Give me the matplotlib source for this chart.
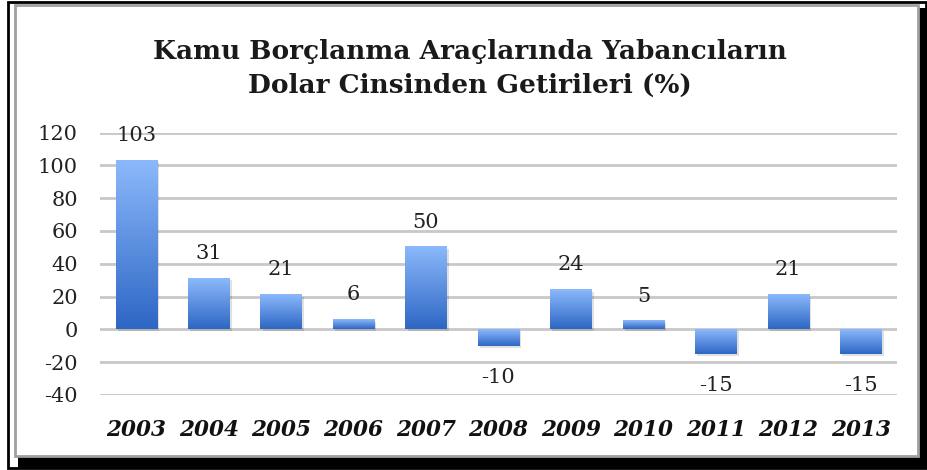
import numpy as np
import matplotlib
matplotlib.use("Agg")
import matplotlib.pyplot as plt
from matplotlib.patches import Rectangle
from matplotlib.colors import LinearSegmentedColormap

years = ["2003", "2004", "2005", "2006", "2007", "2008",
         "2009", "2010", "2011", "2012", "2013"]
returns = [103, 31, 21, 6, 50, -10, 24, 5, -15, 21, -15]
yticks = [-40, -20, 0, 20, 40, 60, 80, 100, 120]
title = "Kamu Borçlanma Araçlarında Yabancıların\nDolar Cinsinden Getirileri (%)"

W, H = 928, 470
plt.rcParams['font.family'] = ['DejaVu Serif', 'Liberation Serif']

fig = plt.figure(figsize=(W / 100, H / 100), dpi=100)


def box(x0, y0, x1, y1, **kw):
    # pixel coords (top-left origin) -> figure fraction
    r = Rectangle((x0 / W, 1 - y1 / H), (x1 - x0) / W, (y1 - y0) / H,
                  transform=fig.transFigure, **kw)
    fig.add_artist(r)


# frame with drop shadow
box(8, 2, 926, 468, facecolor="white", edgecolor="black", lw=2, zorder=0)
box(18, 456, 926, 468, facecolor="black", edgecolor="none", zorder=0)
box(918, 8, 926, 468, facecolor="black", edgecolor="none", zorder=0)
box(15, 5, 918, 456, facecolor="white", edgecolor="#a0a0a0", lw=2, zorder=0)

ax = fig.add_axes([100 / W, 1 - 395 / H, 797 / W, (395 - 132.5) / H])
ax.set_facecolor("none")

x = np.arange(len(years))
width = 0.57
bars = ax.bar(x, returns, width=width, color="none", zorder=3)

cmap = LinearSegmentedColormap.from_list("bar", ["#2d66c4", "#8cb9fb"])
grad = np.linspace(0, 1, 256).reshape(-1, 1)
for b, v in zip(bars, returns):
    x0 = b.get_x()
    x1 = x0 + b.get_width()
    lo, hi = min(0, v), max(0, v)
    # soft shadow
    ax.add_patch(Rectangle((x0 + 0.03, lo - 1.2), x1 - x0, hi - lo,
                           facecolor="#000000", alpha=0.12, lw=0, zorder=2))
    ax.imshow(grad, extent=[x0, x1, lo, hi], origin="lower",
              aspect="auto", cmap=cmap, zorder=3)
    if v >= 0:
        ax.annotate(str(v), (b.get_x() + width / 2, v), xytext=(0, 18),
                    textcoords="offset points", ha="center", va="center",
                    fontsize=15, color="#222222")
    else:
        ax.annotate(str(v), (b.get_x() + width / 2, v), xytext=(0, -23),
                    textcoords="offset points", ha="center", va="center",
                    fontsize=15, color="#222222")

ax.set_xlim(-0.5, len(years) - 0.5)
ax.set_ylim(-40, 120)
ax.set_yticks(yticks)
ax.set_yticklabels([str(t) for t in yticks], fontsize=15, color="#222222")
ax.set_xticks(x)
ax.set_xticklabels(years, fontsize=15.5, fontweight="bold", fontstyle="italic",
                   color="#111111")
ax.tick_params(axis="both", length=0)
ax.tick_params(axis="y", pad=16)
ax.tick_params(axis="x", pad=17)
ax.yaxis.grid(True, color="#c8c8c8", lw=2, zorder=1)
ax.set_axisbelow(True)
for s in ax.spines.values():
    s.set_visible(False)

fig.text(470 / W, 1 - 68 / H, title, ha="center", va="center",
         fontsize=19, fontweight="bold", color="#1a1a1a", linespacing=1.45)

fig.savefig("out.png", dpi=100)
